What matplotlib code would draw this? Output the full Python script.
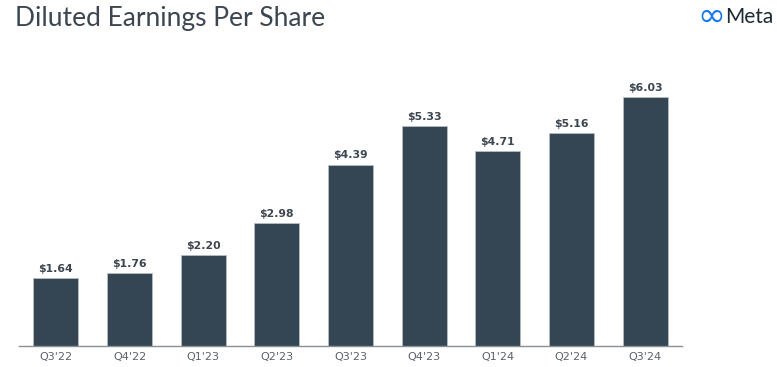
import matplotlib
matplotlib.use("Agg")
import matplotlib.pyplot as plt

quarters = ["Q3'22", "Q4'22", "Q1'23", "Q2'23", "Q3'23", "Q4'23", "Q1'24", "Q2'24", "Q3'24"]
eps = [1.64, 1.76, 2.20, 2.98, 4.39, 5.33, 4.71, 5.16, 6.03]

bar_color = "#344653"
plt.rcParams['font.family'] = ['Lato', 'DejaVu Sans']

fig = plt.figure(figsize=(7.77, 3.67), dpi=100)
ax = fig.add_axes([0.0245, 0.0572, 0.8532, 0.732])

x = range(len(quarters))
ax.bar(x, eps, width=0.61, color=bar_color, edgecolor="#b8bec3", linewidth=0.6)
for i, v in enumerate(eps):
    ax.text(i, v + 0.1, "$%.2f" % v, ha="center", va="bottom",
            fontsize=7.8, fontweight="bold", color="#3c4650",
            family="DejaVu Sans")

ax.set_xlim(-0.5, 8.5)
ax.set_ylim(0, 6.5)
ax.set_xticks(list(x))
ax.set_xticklabels(quarters, fontsize=8, color="#5a626a", family="DejaVu Sans")
ax.tick_params(axis="x", length=0, pad=4)
ax.set_yticks([])
for s in ["top", "right", "left"]:
    ax.spines[s].set_visible(False)
ax.spines["bottom"].set_color("#8a8f94")
ax.spines["bottom"].set_linewidth(1.0)

fig.text(0.019, 0.93, "Diluted Earnings Per Share", fontsize=19,
         color="#3c4650", ha="left", va="baseline")
fig.text(0.897, 0.955, "\u221e", fontsize=24, color="#1877f2",
         ha="left", va="center", family="DejaVu Sans")
fig.text(0.933, 0.953, "Meta", fontsize=15, color="#1c2b33",
         ha="left", va="center")

fig.savefig("out.png", dpi=100)
